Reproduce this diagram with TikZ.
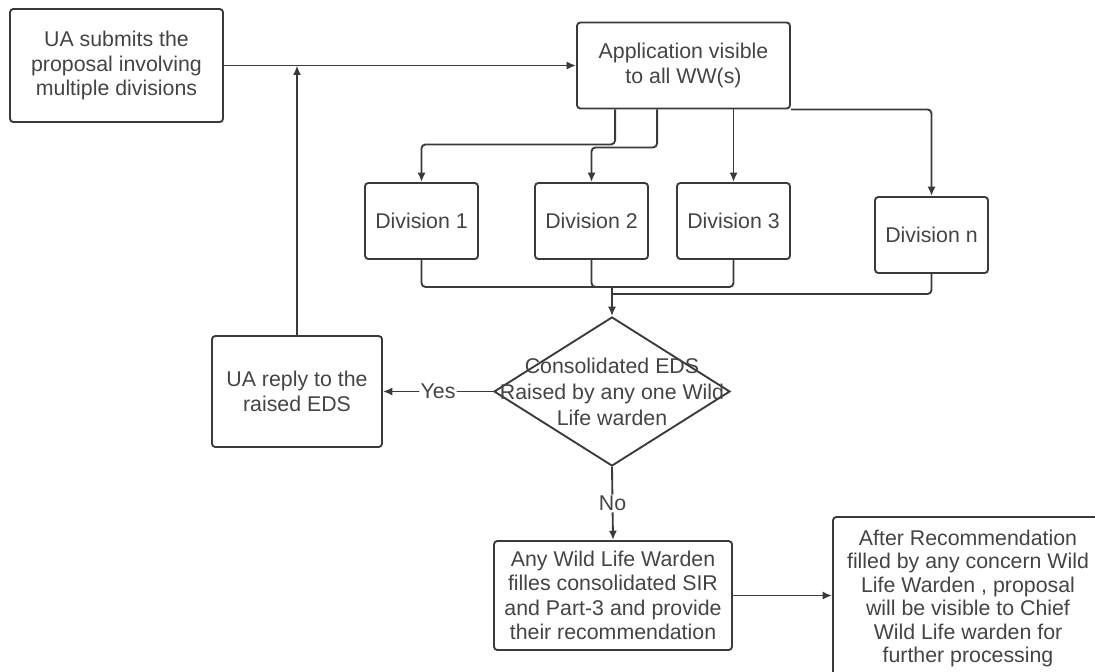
\documentclass[tikz,border=0pt]{standalone}
\usepackage{fontspec}
\setmainfont{Liberation Sans}
\usepackage{xcolor}
\usetikzlibrary{calc,shapes.geometric,arrows.meta}
\definecolor{edge}{HTML}{3A3A3A}
\definecolor{ink}{HTML}{444444}
\tikzset{
  pbox/.style={draw=edge, line width=1.4pt, rounded corners=2.5pt, fill=white, align=center,
    text=ink, inner sep=0pt, font=\fontsize{16}{18.4}\selectfont},
  divbox/.style={pbox, minimum width=84.75pt, minimum height=57pt},
  cond/.style={draw=edge, line width=1.4pt, diamond, inner sep=0pt, fill=white,
    minimum width=177pt, minimum height=111.75pt},
  link/.style={draw=edge, line width=1.4pt, rounded corners=3pt},
  flow/.style={link, -{Latex[length=7pt,width=6pt]}},
  lab/.style={fill=white, text=ink, inner sep=1pt, font=\fontsize{16}{18.4}\selectfont}
}

\begin{document}
\begin{tikzpicture}[x=0.75pt, y=-0.75pt]
  \useasboundingbox (0,0) rectangle (1095,671);

  % Boxes
  \node[pbox, minimum width=159.75pt, minimum height=84.75pt] (ua) at (116.5,65.5)
    {UA submits the\\proposal involving\\multiple divisions};
  \node[pbox, minimum width=159.75pt, minimum height=64.5pt] (app) at (683.5,65.5)
    {Application visible\\to all WW(s)};

  \node[divbox] (d1) at (421.5,221) {Division 1};
  \node[divbox] (d2) at (591.5,221) {Division 2};
  \node[divbox] (d3) at (733.5,221) {Division 3};
  \node[divbox] (dn) at (931.5,235) {Division n};

  \node[cond, label={[align=center, text=ink, font=\fontsize{16}{19.5}\selectfont]center:Consolidated EDS\\Raised by any one Wild\\Life warden}] (eds) at (612,391.5) {};

  \node[pbox, minimum width=127.5pt, minimum height=83.25pt] (reply) at (297,391.5)
    {UA reply to the\\raised EDS};
  \node[pbox, minimum width=178.5pt, minimum height=81.75pt] (sir) at (613,595.5)
    {Any Wild Life Warden\\filles consolidated SIR\\and Part-3 and provide\\their recommendation};
  \node[pbox, minimum width=202.5pt, minimum height=122.25pt, font=\fontsize{16}{17.6}\selectfont] (chief) at (968,598.5)
    {After Recommendation\\filled by any concern Wild\\Life Warden , proposal\\will be visible to Chief\\Wild Life warden for\\further processing};

  \coordinate (mg) at (612,287);

  % Submission and reply loop
  \draw[flow] (ua.east) -- (app.west);
  \draw[flow] (reply.north) -- (reply.north |- ua.east);

  % Fan out to divisions
  \draw[flow] ($(app.south west)+(39,0)$) -- ++(0,35) -| (d1.north);
  \draw[flow] ($(app.south west)+(81,0)$) -- ++(0,38) -| (d2.north);
  \draw[flow] (d3.north |- app.south) -- (d3.north);
  \draw[flow] (app.south east) -| (dn.north);

  % Merge into the check
  \draw[link] (d1.south) |- (mg);
  \draw[link] (d2.south) |- (mg);
  \draw[link] (d3.south) |- (mg);
  \draw[link] (dn.south) |- ($(mg)+(0,7)$);
  \draw[flow] (mg) -- (eds.north);

  % Decision
  \draw[flow] (eds.west) -- node[lab] {Yes} (reply.east);
  \draw[flow] (eds.south) -- node[lab] {No} (sir.north);
  \draw[flow] (sir.east) -- (sir.east -| chief.west);
\end{tikzpicture}
\end{document}
